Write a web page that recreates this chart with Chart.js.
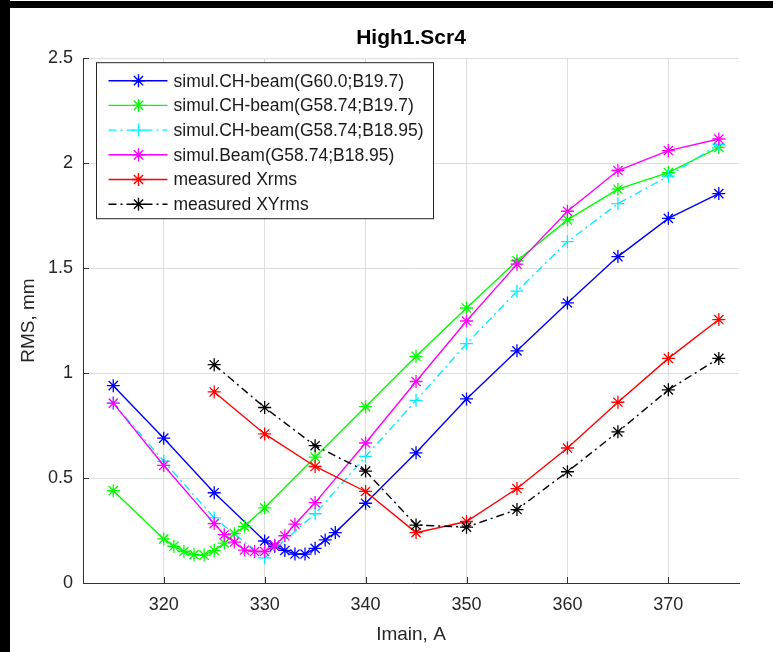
<!DOCTYPE html>
<html><head><meta charset="utf-8">
<script src="https://cdn.jsdelivr.net/npm/chart.js@4/dist/chart.umd.min.js"></script>
<style>
html,body{margin:0;padding:0;background:#fff;}
#wrap{position:relative;width:773px;height:652px;overflow:hidden;}
canvas{display:block;}
.bl{position:absolute;background:#000;}
</style></head><body>
<div id="wrap"><canvas id="c" width="773" height="652"></canvas>
<div class="bl" style="left:0;top:0;width:10px;height:652px"></div>
<div class="bl" style="left:0;top:1px;width:773px;height:7px"></div>
</div>
<script>
const titleText = 'High1.Scr4';
const xTitle = 'Imain, A';
const yTitle = 'RMS, mm';
const seriesLabels = ['simul.CH-beam(G60.0;B19.7)','simul.CH-beam(G58.74;B19.7)','simul.CH-beam(G58.74;B18.95)','simul.Beam(G58.74;B18.95)','measured Xrms','measured XYrms'];

const xBlue = [315,320,325,330,331,332,333,334,335,336,337,340,345,350,355,360,365,370,375];
const yBlue = [0.94,0.69,0.43,0.20,0.175,0.155,0.138,0.138,0.165,0.205,0.24,0.38,0.62,0.877,1.106,1.334,1.555,1.737,1.855];
const xGreen = [315,320,321,322,323,324,325,326,327,328,330,335,340,345,350,355,360,365,370,375];
const yGreen = [0.44,0.21,0.175,0.15,0.135,0.133,0.155,0.19,0.235,0.27,0.358,0.60,0.84,1.08,1.31,1.535,1.73,1.876,1.955,2.075];
const xCyan = [315,320,325,330,335,340,345,350,355,360,365,370,375];
const yCyan = [0.857,0.58,0.31,0.12,0.33,0.603,0.87,1.14,1.39,1.626,1.807,1.938,2.09];
const xMagenta = [315,320,325,326,327,328,329,330,331,332,333,335,340,345,350,355,360,365,370,375];
const yMagenta = [0.857,0.56,0.283,0.23,0.195,0.157,0.15,0.15,0.18,0.225,0.28,0.383,0.667,0.96,1.248,1.519,1.771,1.965,2.06,2.115];
const xMeasured = [325,330,335,340,345,350,355,360,365,370,375];
const yXrms = [0.91,0.71,0.555,0.436,0.24,0.293,0.45,0.643,0.861,1.07,1.255];
const yXYrms = [1.04,0.836,0.654,0.533,0.276,0.266,0.35,0.53,0.72,0.92,1.07];

const xTicks = [320,330,340,350,360,370];
const yTicks = [0,0.5,1,1.5,2,2.5];
const yTickLabels = ['0','0.5','1','1.5','2','2.5'];

const FONT = '"Liberation Sans", Arial, Helvetica, sans-serif';
const DASHDOT = [8,4,2,4];

function mk(i, xs, ys, color, style, dash) {
  return {
    label: seriesLabels[i],
    data: xs.map((x, k) => ({x: x, y: ys[k]})),
    borderColor: color, backgroundColor: color,
    borderWidth: 1.4, borderDash: dash,
    pointStyle: style, pointRadius: 6.5, pointHoverRadius: 6.5,
    pointBorderWidth: 1.3, pointBorderColor: color, pointBackgroundColor: color,
    tension: 0, fill: false, order: 6 - i
  };
}

const datasets = [
  mk(0, xBlue, yBlue, '#0000ff', 'star', []),
  mk(1, xGreen, yGreen, '#00ff00', 'star', []),
  mk(2, xCyan, yCyan, '#00f0ff', 'cross', DASHDOT),
  mk(3, xMagenta, yMagenta, '#ff00ff', 'star', []),
  mk(4, xMeasured, yXrms, '#ff0000', 'star', []),
  mk(5, xMeasured, yXYrms, '#000000', 'star', DASHDOT)
];

const innerTicks = {
  id: 'innerTicks',
  afterDatasetsDraw(chart) {
    const {ctx, chartArea: a, scales: {x, y}} = chart;
    ctx.save();
    ctx.strokeStyle = '#333';
    ctx.lineWidth = 1;
    ctx.beginPath();
    x.ticks.forEach(t => { const px = Math.round(x.getPixelForValue(t.value)) + 0.5; ctx.moveTo(px, a.bottom); ctx.lineTo(px, a.bottom - 6); });
    y.ticks.forEach(t => { const py = Math.round(y.getPixelForValue(t.value)) + 0.5; ctx.moveTo(a.left, py); ctx.lineTo(a.left + 6, py); });
    ctx.stroke();
    ctx.restore();
  }
};

const boxLegend = {
  id: 'boxLegend',
  afterDatasetsDraw(chart) {
    const {ctx, chartArea: a} = chart;
    const L = a.left + 13.5, T = a.top + 4.5, W = 337, H = 156;
    ctx.save();
    ctx.fillStyle = '#fff';
    ctx.fillRect(L, T, W, H);
    ctx.strokeStyle = '#262626';
    ctx.lineWidth = 1;
    ctx.strokeRect(L, T, W, H);
    chart.data.datasets.forEach((d, i) => {
      const yy = T + 18 + i * 24.7;
      ctx.strokeStyle = d.borderColor;
      ctx.fillStyle = d.borderColor;
      ctx.lineWidth = d.borderWidth;
      ctx.setLineDash(d.borderDash || []);
      ctx.beginPath();
      ctx.moveTo(L + 12, yy); ctx.lineTo(L + 71, yy);
      ctx.stroke();
      ctx.setLineDash([]);
      Chart.helpers.drawPoint(ctx, {pointStyle: d.pointStyle, rotation: 0, radius: d.pointRadius, borderWidth: d.pointBorderWidth}, L + 42, yy);
      ctx.fillStyle = '#1a1a1a';
      ctx.font = '17.5px ' + FONT;
      ctx.textBaseline = 'middle';
      ctx.textAlign = 'left';
      ctx.fillText(d.label, L + 77, yy + 1);
    });
    ctx.restore();
  }
};

new Chart(document.getElementById('c'), {
  type: 'line',
  data: {datasets: datasets},
  plugins: [innerTicks, boxLegend],
  options: {
    responsive: false, animation: false, devicePixelRatio: 1,
    layout: {padding: {left: 10, right: 34, top: 0, bottom: 0}},
    plugins: {
      legend: {display: false},
      tooltip: {enabled: false},
      title: {display: true, text: titleText, fullSize: false, color: '#000',
        font: {family: FONT, size: 21, weight: 'bold'}, padding: {top: 26, bottom: 7}}
    },
    scales: {
      x: {
        type: 'linear', min: 312, max: 377,
        afterBuildTicks: s => { s.ticks = xTicks.map(v => ({value: v})); },
        afterFit: s => { s.height = 69; },
        grid: {color: '#dedede', lineWidth: 1, drawTicks: false},
        border: {display: true, color: '#333', width: 1},
        ticks: {padding: 11, color: '#262626', maxRotation: 0, autoSkip: false,
          font: {family: FONT, size: 18}, callback: v => String(v)},
        title: {display: true, text: xTitle, color: '#262626', font: {family: FONT, size: 19}, padding: {top: 0, bottom: 6}}
      },
      y: {
        type: 'linear', min: 0, max: 2.5,
        afterBuildTicks: s => { s.ticks = yTicks.map(v => ({value: v})); },
        afterFit: s => { s.width = 73; },
        grid: {color: '#dedede', lineWidth: 1, drawTicks: false},
        border: {display: true, color: '#333', width: 1},
        ticks: {padding: 10, color: '#262626', font: {family: FONT, size: 18},
          callback: v => yTickLabels[yTicks.indexOf(v)]},
        title: {display: true, text: yTitle, color: '#262626', font: {family: FONT, size: 19}, padding: {top: 7, bottom: 0}}
      }
    }
  }
});
</script>
</body></html>
